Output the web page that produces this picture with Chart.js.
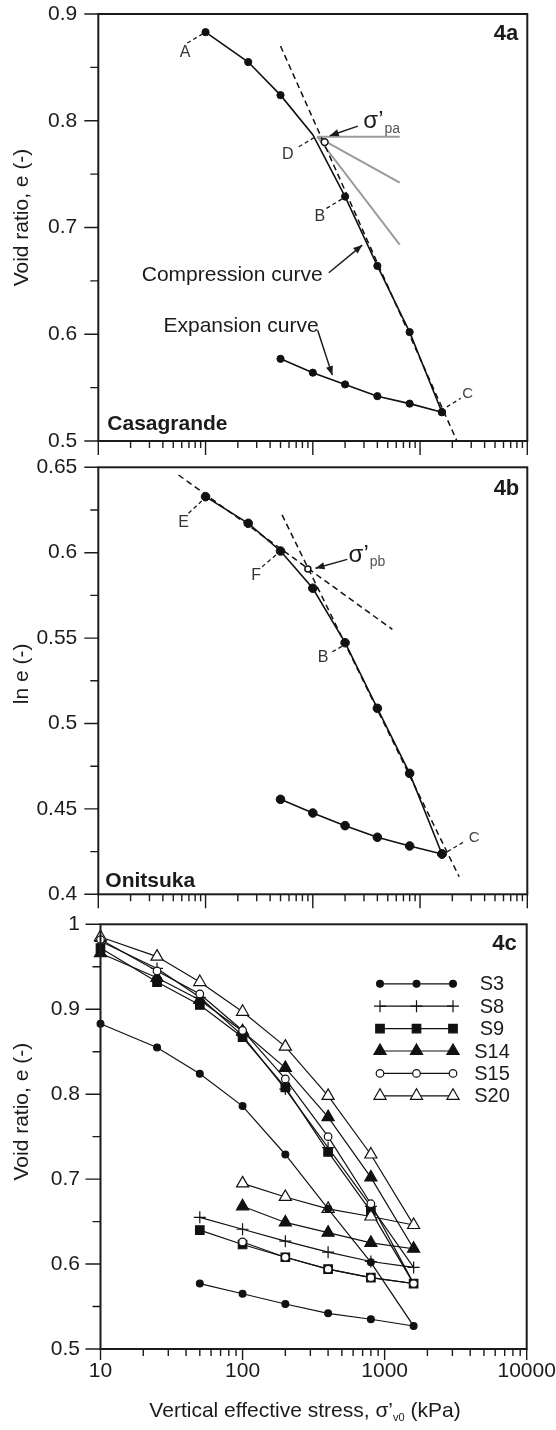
<!DOCTYPE html>
<html>
<head>
<meta charset="utf-8">
<script src="https://cdn.jsdelivr.net/npm/chart.js@4.4.1/dist/chart.umd.min.js"></script>
<style>
    html, body { margin: 0; padding: 0; background: #fff; }
    #wrap { position: relative; width: 556px; height: 1430px; }
    canvas { position: absolute; left: 0; }
</style>
</head>
<body>
<div id="wrap">
    <canvas id="panelA" width="556" height="456" style="top:0px"></canvas>
    <canvas id="panelB" width="556" height="456" style="top:456px"></canvas>
    <canvas id="panelC" width="556" height="518" style="top:912px"></canvas>
</div>
<script>
// ======================================
// Data
// ======================================
const loadSteps = [10, 25, 50, 100, 200, 400, 800, 1600];   // kPa
const unloadSteps = [800, 400, 200, 100, 50];                // kPa, after 1600

// 4a - Casagrande, sample S3, void ratio e
const casaLoad = [0.883, 0.855, 0.824, 0.787, 0.729, 0.664, 0.602, 0.527];
const casaUnload = [0.535, 0.542, 0.553, 0.564, 0.577];
const casaVirgin = [[50, 0.870], [2230, 0.499]];
const casaFlat = [[110, 0.785], [646, 0.785]];
const casaBisector = [[110, 0.785], [646, 0.742]];
const casaTangent = [[110, 0.785], [646, 0.684]];
const casaPc = [[129, 0.780]];

// 4b - Onitsuka, sample S3, ln e
const oniLoad = [0.6328, 0.6172, 0.6010, 0.5792, 0.5473, 0.5089, 0.4708, 0.4236];
const oniUnload = [0.4283, 0.4334, 0.4402, 0.4476, 0.4556];
const oniUpper = [[5.6, 0.6455], [552, 0.5551]];
const oniLower = [[51.7, 0.6221], [2314, 0.4103]];
const oniPc = [[90, 0.5905]];

// 4c - all samples, void ratio e
const sampleNames = ["S3", "S8", "S9", "S14", "S15", "S20"];
const s3Load = [0.883, 0.855, 0.824, 0.786, 0.729, 0.665, 0.602, 0.527];
const s3Unload = [0.535, 0.542, 0.553, 0.565, 0.577];
const s8Load = [0.980, 0.948, 0.914, 0.869, 0.806, 0.737, 0.668, 0.596];
const s8Unload = [0.603, 0.614, 0.627, 0.641, 0.655];
const s9Load = [0.972, 0.932, 0.905, 0.867, 0.808, 0.732, 0.662, 0.577];
const s9Unload = [0.584, 0.594, 0.608, 0.623, 0.640];
const s14Load = [0.966, 0.937, 0.911, 0.874, 0.831, 0.773, 0.702, 0.618];
const s14Unload = [0.625, 0.637, 0.649, 0.668];
const s15Load = [0.982, 0.945, 0.918, 0.875, 0.818, 0.750, 0.671, 0.577];
const s15Unload = [0.584, 0.594, 0.608, 0.626];
const s20Load = [0.985, 0.962, 0.932, 0.897, 0.856, 0.798, 0.729, 0.646];
const s20Unload = [0.656, 0.665, 0.679, 0.695];

// axis ticks
const decades = [1, 10, 100, 1000, 10000];
const minorSteps = [2, 3, 4, 5, 6, 7, 8, 9];

// ======================================
// Helpers
// ======================================
const FONT = "'Liberation Sans', Arial, Helvetica, sans-serif";
const INK = "#1b1b1b";

function pts(xs, ys) {
    return ys.map((v, i) => ({x: xs[i], y: v}));
}

function pairs(list) {
    return list.map(p => ({x: p[0], y: p[1]}));
}

function logTicks(min, max) {
    const out = [];
    decades.forEach(d => {
        if (d >= min && d <= max) out.push({value: d, major: true});
        minorSteps.forEach(m => {
            const v = d * m;
            if (v > min && v < max) out.push({value: v, major: false});
        });
    });
    return out.sort((a, b) => a.value - b.value);
}

function yLabel(step) {
    return v => {
        const k = v / step;
        return Math.abs(k - Math.round(k)) < 1e-6 ? String(+v.toFixed(3)) : "";
    };
}

// layout is fixed by hand, so drop the label overhang padding
function pinScale(s, size) {
    if (s.isHorizontal()) s.height = size; else s.width = size;
    s.paddingLeft = 0;
    s.paddingRight = 0;
    s.paddingTop = 0;
    s.paddingBottom = 0;
}

// ======================================
// Plugins: frame + tick marks, annotations, sample key
// ======================================
const framePlugin = {
    id: "frame",
    afterDraw(chart, args, o) {
        const {ctx, chartArea: a} = chart;
        const xs = chart.scales.x, ys = chart.scales.y;
        ctx.save();
        ctx.strokeStyle = INK;
        ctx.lineWidth = 1.4;
        ctx.beginPath();
        xs.ticks.forEach(t => {
            const px = xs.getPixelForValue(t.value);
            if (px < a.left - 0.5 || px > a.right + 0.5) return;
            const len = t.major ? o.xMajor : o.xMinor;
            ctx.moveTo(px, a.bottom);
            ctx.lineTo(px, a.bottom + len);
        });
        ys.ticks.forEach(t => {
            const py = ys.getPixelForValue(t.value);
            const len = t.label !== "" ? o.yMajor : o.yMinor;
            ctx.moveTo(a.left - len, py);
            ctx.lineTo(a.left, py);
        });
        ctx.stroke();
        ctx.lineWidth = 2;
        ctx.strokeRect(a.left, a.top, a.right - a.left, a.bottom - a.top);
        ctx.restore();
    }
};

function arrowHead(ctx, x1, y1, x2, y2) {
    const ang = Math.atan2(y2 - y1, x2 - x1);
    const L = 9, W = 3.6;
    ctx.beginPath();
    ctx.moveTo(x2, y2);
    ctx.lineTo(x2 - L * Math.cos(ang) + W * Math.sin(ang), y2 - L * Math.sin(ang) - W * Math.cos(ang));
    ctx.lineTo(x2 - L * Math.cos(ang) - W * Math.sin(ang), y2 - L * Math.sin(ang) + W * Math.cos(ang));
    ctx.closePath();
    ctx.fill();
}

const notesPlugin = {
    id: "notes",
    afterDatasetsDraw(chart, args, o) {
        const {ctx, chartArea: a} = chart;
        const xs = chart.scales.x, ys = chart.scales.y;
        const P = p => [xs.getPixelForValue(p[0]), ys.getPixelForValue(p[1])];
        ctx.save();
        (o.items || []).forEach(it => {
            ctx.strokeStyle = INK;
            ctx.fillStyle = it.color || INK;
            if (it.kind === "leader" || it.kind === "arrow") {
                const [x1, y1] = P(it.from), [x2, y2] = P(it.to);
                ctx.lineWidth = it.kind === "arrow" ? 1.5 : 1.3;
                ctx.setLineDash(it.kind === "leader" ? [4, 3] : []);
                ctx.beginPath();
                ctx.moveTo(x1, y1);
                ctx.lineTo(x2, y2);
                ctx.stroke();
                ctx.setLineDash([]);
                if (it.kind === "arrow") arrowHead(ctx, x1, y1, x2, y2);
            } else if (it.kind === "text" || it.kind === "corner") {
                let px, py;
                if (it.kind === "text") {
                    [px, py] = P(it.at);
                } else if (it.anchor === "tr") {
                    px = a.right + it.dx; py = a.top + it.dy;
                } else {
                    px = a.left + it.dx; py = a.bottom + it.dy;
                }
                ctx.font = `${it.bold ? "bold " : ""}${it.size}px ${FONT}`;
                ctx.textAlign = it.align || (it.anchor === "tr" ? "right" : "left");
                ctx.textBaseline = it.baseline || "alphabetic";
                ctx.fillText(it.text, px, py);
                if (it.sub) {
                    const w = ctx.measureText(it.text).width;
                    ctx.font = `${it.subSize}px ${FONT}`;
                    ctx.fillStyle = "#555";
                    ctx.textAlign = "left";
                    ctx.fillText(it.sub, px + w + 1, py + it.subDrop);
                }
            } else if (it.kind === "ytitle") {
                ctx.font = `${it.size}px ${FONT}`;
                ctx.textAlign = "center";
                ctx.textBaseline = "middle";
                ctx.translate(it.x, (a.top + a.bottom) / 2 + it.dy);
                ctx.rotate(-Math.PI / 2);
                ctx.fillText(it.text, 0, 0);
                ctx.setTransform(1, 0, 0, 1, 0, 0);
            } else if (it.kind === "xtitle") {
                const big = `${it.size}px ${FONT}`, small = `${it.subSize}px ${FONT}`;
                ctx.font = big;
                const w1 = ctx.measureText(it.head).width;
                const w3 = ctx.measureText(it.tail).width;
                ctx.font = small;
                const w2 = ctx.measureText(it.sub).width;
                let x = (a.left + a.right) / 2 + it.dx - (w1 + w2 + w3) / 2;
                const y = a.bottom + it.dy;
                ctx.textAlign = "left";
                ctx.textBaseline = "alphabetic";
                ctx.font = big;
                ctx.fillText(it.head, x, y);
                x += w1;
                ctx.font = small;
                ctx.fillText(it.sub, x, y + it.subDrop);
                x += w2;
                ctx.font = big;
                ctx.fillText(it.tail, x, y);
            }
        });
        ctx.restore();
    }
};

const keyPlugin = {
    id: "key",
    afterDraw(chart, args, o) {
        const {ctx, chartArea: a} = chart;
        ctx.save();
        chart.data.datasets.forEach((ds, i) => {
            const y = a.top + o.top + i * o.step;
            const xs = o.marks.map(m => a.right + m);
            ctx.strokeStyle = ds.borderColor;
            ctx.lineWidth = ds.borderWidth;
            ctx.beginPath();
            ctx.moveTo(xs[0], y);
            ctx.lineTo(xs[xs.length - 1], y);
            ctx.stroke();
            xs.forEach(x => {
                ctx.fillStyle = ds.pointBackgroundColor;
                ctx.strokeStyle = ds.pointBorderColor;
                ctx.lineWidth = ds.pointBorderWidth;
                Chart.helpers.drawPoint(ctx, {
                    pointStyle: ds.pointStyle, rotation: 0,
                    radius: ds.pointRadius, borderWidth: ds.pointBorderWidth
                }, x, y);
            });
            ctx.fillStyle = INK;
            ctx.font = `${o.size}px ${FONT}`;
            ctx.textAlign = "center";
            ctx.textBaseline = "middle";
            ctx.fillText(ds.label, a.right + o.labelX, y + 1);
        });
        ctx.restore();
    }
};

// ======================================
// Shared options
// ======================================
function panelOptions(o) {
    return {
        responsive: false,
        animation: false,
        devicePixelRatio: 1,
        layout: {padding: o.pad},
        plugins: {
            legend: {display: false},
            tooltip: {enabled: false},
            frame: o.frame,
            notes: {items: o.notes},
            key: o.key || {}
        },
        scales: {
            x: {
                type: "logarithmic",
                min: o.xMin,
                max: o.xMax,
                afterBuildTicks: s => { s.ticks = logTicks(s.min, s.max); },
                afterFit: s => pinScale(s, o.xHeight),
                grid: {display: false, drawTicks: false},
                border: {display: false},
                ticks: {
                    display: o.xLabels,
                    autoSkip: false,
                    maxRotation: 0,
                    padding: 12,
                    color: INK,
                    font: {family: FONT, size: 21, lineHeight: 1},
                    callback: v => decades.includes(v) ? String(v) : ""
                }
            },
            y: {
                type: "linear",
                min: o.yMin,
                max: o.yMax,
                afterFit: s => pinScale(s, o.yWidth),
                grid: {display: false, drawTicks: false},
                border: {display: false},
                ticks: {
                    stepSize: o.yStep,
                    autoSkip: false,
                    padding: o.yPad,
                    color: INK,
                    font: {family: FONT, size: 21, lineHeight: 1},
                    callback: yLabel(o.yLabelStep)
                }
            }
        }
    };
}

function curve(label, data, radius, hideAt) {
    return {
        label, data,
        borderColor: "#111", borderWidth: 1.6,
        pointStyle: "circle",
        pointRadius: c => (hideAt && c.raw && c.raw.x === hideAt ? 0 : radius),
        pointBackgroundColor: "#111", pointBorderColor: "#111", pointBorderWidth: 1
    };
}

function guide(data, color, dash, width) {
    return {
        data, borderColor: color, borderWidth: width, borderDash: dash,
        pointRadius: 0, order: 2
    };
}

function openMark(data, r) {
    return {
        data, showLine: false, pointStyle: "circle", pointRadius: r,
        pointBackgroundColor: "#fff", pointBorderColor: "#111", pointBorderWidth: 1.5, order: -1
    };
}

// ======================================
// 4a Casagrande
// ======================================
new Chart(document.getElementById("panelA"), {
    type: "line",
    data: {
        datasets: [
            curve("Compression curve", pts(loadSteps, casaLoad), 3.6, 100),
            curve("Expansion curve", pts([1600, ...unloadSteps], [casaLoad[7], ...casaUnload]), 3.6),
            guide(pairs(casaVirgin), "#111", [6, 4], 1.5),
            guide(pairs(casaFlat), "#9a9a9a", [], 2),
            guide(pairs(casaBisector), "#9a9a9a", [], 2),
            guide(pairs(casaTangent), "#9a9a9a", [], 2),
            openMark(pairs(casaPc), 3.4)
        ]
    },
    options: panelOptions({
        pad: {top: 14, right: 28.7, left: 0, bottom: 0},
        xMin: 1, xMax: 10000, xHeight: 15, xLabels: false,
        yMin: 0.5, yMax: 0.9, yStep: 0.05, yLabelStep: 0.1, yWidth: 98.3, yPad: 21,
        frame: {xMajor: 14, xMinor: 7, yMajor: 14, yMinor: 8},
        notes: [
            {kind: "leader", from: [6.75, 0.8728], to: [9.52, 0.8817]},
            {kind: "text", at: [6.46, 0.8634], text: "A", size: 16, align: "center", baseline: "middle", color: "#333"},
            {kind: "leader", from: [74, 0.7756], to: [106, 0.785]},
            {kind: "text", at: [58.4, 0.7679], text: "D", size: 16, align: "center", baseline: "middle", color: "#333"},
            {kind: "leader", from: [134, 0.7179], to: [198, 0.7282]},
            {kind: "text", at: [116, 0.710], text: "B", size: 16, align: "center", baseline: "middle", color: "#333"},
            {kind: "leader", from: [1777, 0.532], to: [2400, 0.540]},
            {kind: "text", at: [2773, 0.5439], text: "C", size: 15, align: "center", baseline: "middle", color: "#444"},
            {kind: "arrow", from: [263, 0.795], to: [144, 0.786]},
            {kind: "text", at: [296, 0.7932], text: "σ’", size: 24, sub: "pa", subSize: 14, subDrop: 5},
            {kind: "text", at: [2.54, 0.650], text: "Compression curve", size: 21},
            {kind: "arrow", from: [141, 0.6576], to: [289.5, 0.6835]},
            {kind: "text", at: [4.05, 0.6022], text: "Expansion curve", size: 21},
            {kind: "arrow", from: [111, 0.6038], to: [152, 0.5617]},
            {kind: "corner", anchor: "tr", dx: -9, dy: 26, text: "4a", size: 22, bold: true},
            {kind: "corner", anchor: "bl", dx: 9, dy: -11, text: "Casagrande", size: 21, bold: true},
            {kind: "ytitle", text: "Void ratio, e (-)", size: 21, x: 22.5, dy: -10}
        ]
    }),
    plugins: [framePlugin, notesPlugin]
});

// ======================================
// 4b Onitsuka
// ======================================
new Chart(document.getElementById("panelB"), {
    type: "line",
    data: {
        datasets: [
            curve("Compression curve", pts(loadSteps, oniLoad), 4.3),
            curve("Expansion curve", pts([1600, ...unloadSteps], [oniLoad[7], ...oniUnload]), 4.3),
            guide(pairs(oniUpper), "#111", [6, 4], 1.5),
            guide(pairs(oniLower), "#111", [6, 4], 1.5),
            openMark(pairs(oniPc), 3)
        ]
    },
    options: panelOptions({
        pad: {top: 11.3, right: 28.7, left: 0, bottom: 0},
        xMin: 1, xMax: 10000, xHeight: 17.7, xLabels: false,
        yMin: 0.4, yMax: 0.65, yStep: 0.025, yLabelStep: 0.05, yWidth: 98.3, yPad: 21,
        frame: {xMajor: 14, xMinor: 7, yMajor: 14, yMinor: 8},
        notes: [
            {kind: "leader", from: [6.94, 0.6231], to: [9.58, 0.6313]},
            {kind: "text", at: [6.23, 0.6178], text: "E", size: 16, align: "center", baseline: "middle", color: "#333"},
            {kind: "leader", from: [33.7, 0.5918], to: [48.1, 0.600]},
            {kind: "text", at: [29.6, 0.5864], text: "F", size: 16, align: "center", baseline: "middle", color: "#333"},
            {kind: "leader", from: [152, 0.542], to: [198, 0.546]},
            {kind: "text", at: [125, 0.5388], text: "B", size: 16, align: "center", baseline: "middle", color: "#333"},
            {kind: "leader", from: [1803, 0.425], to: [2577, 0.4308]},
            {kind: "text", at: [3199, 0.4328], text: "C", size: 15, align: "center", baseline: "middle", color: "#444"},
            {kind: "arrow", from: [209.7, 0.5961], to: [106, 0.5909]},
            {kind: "text", at: [215.6, 0.5947], text: "σ’", size: 24, sub: "pb", subSize: 14, subDrop: 4},
            {kind: "corner", anchor: "tr", dx: -8, dy: 28, text: "4b", size: 22, bold: true},
            {kind: "corner", anchor: "bl", dx: 7, dy: -7, text: "Onitsuka", size: 21, bold: true},
            {kind: "ytitle", text: "ln e (-)", size: 21, x: 22.5, dy: -7}
        ]
    }),
    plugins: [framePlugin, notesPlugin]
});

// ======================================
// 4c All samples
// ======================================
const sampleLoad = [s3Load, s8Load, s9Load, s14Load, s15Load, s20Load];
const sampleUnload = [s3Unload, s8Unload, s9Unload, s14Unload, s15Unload, s20Unload];
const sampleLook = [
    {pointStyle: "circle", pointRadius: 3.4, pointBackgroundColor: "#111", order: 0},
    {pointStyle: "cross", pointRadius: 6, pointBackgroundColor: "#111", order: 0},
    {pointStyle: "rect", pointRadius: 6, pointBackgroundColor: "#111", order: 1},
    {pointStyle: "triangle", pointRadius: 7, pointBackgroundColor: "#111", order: 0},
    {pointStyle: "circle", pointRadius: 3.8, pointBackgroundColor: "#fff", order: -1},
    {pointStyle: "triangle", pointRadius: 7, pointBackgroundColor: "#fff", order: 0}
];

new Chart(document.getElementById("panelC"), {
    type: "line",
    data: {
        datasets: sampleNames.map((name, i) => Object.assign({
            label: name,
            data: pts(loadSteps, sampleLoad[i]).concat(pts(unloadSteps, sampleUnload[i])),
            borderColor: "#111",
            borderWidth: 1.2,
            pointBorderColor: "#111",
            pointBorderWidth: 1.2,
            clip: false
        }, sampleLook[i]))
    },
    options: panelOptions({
        pad: {top: 12.3, right: 29.3, left: 0, bottom: 0},
        xMin: 10, xMax: 10000, xHeight: 81, xLabels: true,
        yMin: 0.5, yMax: 1, yStep: 0.05, yLabelStep: 0.1, yWidth: 100.5, yPad: 20.5,
        frame: {xMajor: 11, xMinor: 7, yMajor: 15, yMinor: 8},
        key: {marks: [-146.7, -110.2, -73.7], top: 59.5, step: 22.4, labelX: -34.7, size: 20},
        notes: [
            {kind: "corner", anchor: "tr", dx: -10, dy: 26, text: "4c", size: 22, bold: true},
            {kind: "ytitle", text: "Void ratio, e (-)", size: 21, x: 22.5, dy: -25},
            {kind: "xtitle", head: "Vertical effective stress, σ’", sub: "v0", tail: " (kPa)",
             size: 21, subSize: 11, subDrop: 4, dx: -8.6, dy: 68}
        ]
    }),
    plugins: [framePlugin, notesPlugin, keyPlugin]
});
</script>
</body>
</html>
